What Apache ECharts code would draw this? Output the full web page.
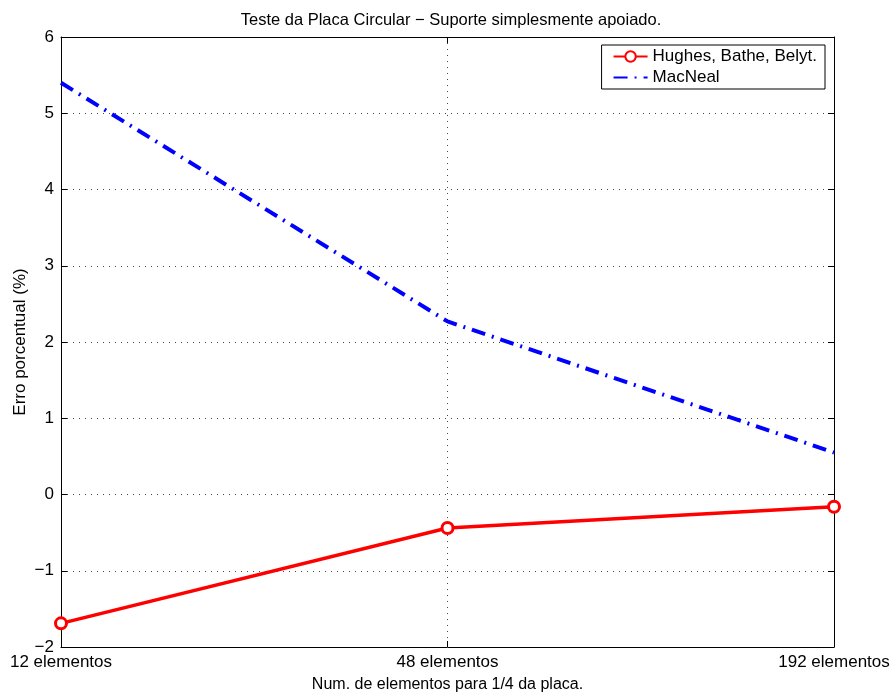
<!DOCTYPE html>
<html>
<head>
<meta charset="utf-8">
<script src="https://cdn.jsdelivr.net/npm/echarts@6/dist/echarts.min.js"></script>
<style>
  html, body { margin: 0; padding: 0; background: #fff; }
  #chart { width: 894px; height: 695px; }
</style>
</head>
<body>
<div id="chart"></div>
<script>
// Mesh sizes (elements for 1/4 of the plate)
const categories = ['12 elementos', '48 elementos', '192 elementos'];
// Percentage error of the centre deflection
const hughesBatheBelyt = [-1.69, -0.44, -0.16];
const macNeal = [5.40, 2.27, 0.55];
const yTicks = [-2, -1, 0, 1, 2, 3, 4, 5, 6];

const FONT = 'Liberation Sans, Arial, Helvetica, sans-serif';
const fmtY = v => (v < 0 ? '\u2212' + Math.abs(v) : String(v));

const chart = echarts.init(document.getElementById('chart'), null, { renderer: 'canvas' });

const dotted = { show: true, lineStyle: { color: '#444', type: [1, 5], width: 1 } };
const axisLine = { show: true, onZero: false, lineStyle: { color: '#000', width: 1 } };
const tickIn = { show: true, inside: true, length: 6, lineStyle: { color: '#000' } };

chart.setOption({
  animation: false,
  backgroundColor: '#fff',
  textStyle: { fontFamily: FONT },
  title: {
    text: 'Teste da Placa Circular \u2212 Suporte simplesmente apoiado.',
    left: 446, top: 7, textAlign: 'center',
    textStyle: { fontFamily: FONT, fontSize: 16.5, fontWeight: 'normal', color: '#000' }
  },
  grid: { left: 61, right: 60, top: 37, bottom: 48, containLabel: false, outerBoundsMode: 'none' },
  legend: {
    right: 69, top: 45,
    orient: 'vertical',
    itemWidth: 34, itemHeight: 13, itemGap: 4,
    padding: [3, 8, 3, 11],
    borderColor: '#000', borderWidth: 1,
    backgroundColor: '#fff',
    textStyle: { fontFamily: FONT, fontSize: 17, color: '#000' },
    data: [
      { name: 'Hughes, Bathe, Belyt.' },
      { name: 'MacNeal', itemStyle: { opacity: 0 } }
    ]
  },
  xAxis: [
    {
      type: 'category', data: categories, boundaryGap: false,
      name: 'Num. de elementos para 1/4 da placa.',
      nameLocation: 'middle', nameGap: 30, nameMoveOverlap: false,
      nameTextStyle: { fontFamily: FONT, fontSize: 16, color: '#000' },
      axisLine, axisTick: tickIn,
      axisLabel: { color: '#000', fontSize: 17, fontFamily: FONT, margin: 7 },
      splitLine: dotted
    },
    {
      type: 'category', data: categories, boundaryGap: false, position: 'top',
      axisLine, axisTick: tickIn, axisLabel: { show: false }, splitLine: { show: false }
    }
  ],
  yAxis: [
    {
      type: 'value', min: yTicks[0], max: yTicks[yTicks.length - 1], interval: 1,
      name: 'Erro porcentual (%)', nameLocation: 'middle', nameGap: 32, nameMoveOverlap: false,
      nameTextStyle: { fontFamily: FONT, fontSize: 17, color: '#000' },
      axisLine, axisTick: tickIn,
      axisLabel: { color: '#000', fontSize: 17, fontFamily: FONT, margin: 7, formatter: fmtY },
      splitLine: dotted
    },
    {
      type: 'value', min: yTicks[0], max: yTicks[yTicks.length - 1], interval: 1, position: 'right',
      axisLine, axisTick: tickIn, axisLabel: { show: false }, splitLine: { show: false }
    }
  ],
  series: [
    {
      name: 'Hughes, Bathe, Belyt.', type: 'line', data: hughesBatheBelyt,
      symbol: 'circle', symbolSize: 11, showAllSymbol: true,
      lineStyle: { color: '#ff0000', width: 3.5 },
      itemStyle: { color: '#fff', borderColor: '#ff0000', borderWidth: 3 },
      z: 3
    },
    {
      name: 'MacNeal', type: 'line', data: macNeal,
      symbol: 'none',
      lineStyle: { color: '#0000ff', width: 4, type: [14, 7, 2, 7] },
      itemStyle: { color: '#0000ff' },
      z: 2
    }
  ]
});
</script>
</body>
</html>
